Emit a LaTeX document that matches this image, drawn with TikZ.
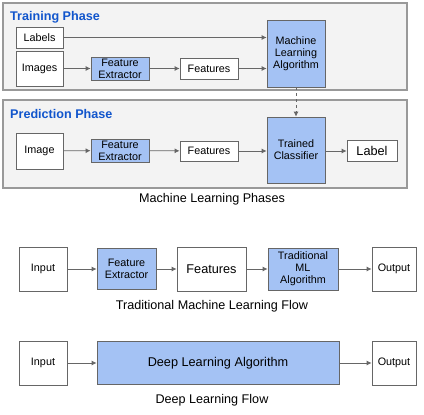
\documentclass[tikz,border=0pt]{standalone}
\usepackage{fontspec}
\setmainfont{Liberation Sans}
\usepackage{tikz}
\usetikzlibrary{arrows.meta}
\definecolor{boxblue}{HTML}{A4C2F4}
\definecolor{phasegray}{HTML}{F3F3F3}
\definecolor{titleblue}{HTML}{1155CC}
\definecolor{linegray}{HTML}{666666}
\begin{document}
\begin{tikzpicture}[x=1pt,y=-1pt,
  box/.style={draw=linegray,line width=0.8pt,fill=white,inner sep=0pt,align=center,font=\fontsize{10.8}{12.2}\selectfont},
  bluebox/.style={box,fill=boxblue},
  bigtxt/.style={font=\fontsize{12.7}{14}\selectfont},
  phase/.style={draw=gray!80,line width=1.2pt,fill=phasegray},
  title/.style={anchor=west,inner sep=0pt,text=titleblue,font=\fontsize{12.6}{14}\selectfont\bfseries},
  caption/.style={inner sep=0pt,font=\fontsize{12.6}{14}\selectfont},
  arr/.style={draw=linegray,line width=0.8pt,-{Latex[length=5pt,width=5pt]}}]
\useasboundingbox (0,0) rectangle (424,415);
% training phase
\draw[phase] (3,3) rectangle (407,90);
\node[title] (ttrain) at (10,17) {Training Phase};
\node[box,minimum width=47pt,minimum height=21pt] (lab) at (39.5,37.5) {Labels};
\node[box,minimum width=47pt,minimum height=35pt] (img) at (39.5,68.5) {Images};
\node[bluebox,minimum width=58pt,minimum height=23pt] (fea) at (120,68.5) {Feature\\Extractor};
\node[box,minimum width=58pt,minimum height=21pt] (feat) at (209,68.5) {Features};
\node[bluebox,minimum width=58pt,minimum height=67pt] (mla) at (296,53.5) {Machine\\Learning\\Algorithm};
% prediction phase
\draw[phase] (3,100) rectangle (407,188);
\node[title] (tpred) at (10,114) {Prediction Phase};
\node[box,minimum width=47pt,minimum height=36pt] (pimg) at (39.5,151) {Image};
\node[bluebox,minimum width=58pt,minimum height=23pt] (pfea) at (120,150.5) {Feature\\Extractor};
\node[box,minimum width=58pt,minimum height=20pt] (pfeat) at (209,151) {Features};
\node[bluebox,minimum width=58pt,minimum height=66pt] (tcl) at (296,150) {Trained\\Classifier};
\node[box,bigtxt,minimum width=50pt,minimum height=21pt] (plab) at (372,151) {Label};
\node[caption] (cphase) at (212,199) {Machine Learning Phases};
% traditional flow
\node[box,minimum width=48pt,minimum height=44pt] (tin) at (43,269) {Input};
\node[bluebox,minimum width=59pt,minimum height=41pt] (tfea) at (126.5,269) {Feature\\Extractor};
\node[box,bigtxt,minimum width=69pt,minimum height=44pt] (tfeat) at (211.5,269) {Features};
\node[bluebox,minimum width=70pt,minimum height=42pt] (tml) at (303,269) {Traditional\\ML\\Algorithm};
\node[box,minimum width=44pt,minimum height=44pt] (tout) at (394,269) {Output};
\node[caption] (ctrad) at (212,306) {Traditional Machine Learning Flow};
% deep flow
\node[box,minimum width=48pt,minimum height=44pt] (din) at (43,363) {Input};
\node[bluebox,bigtxt,minimum width=242pt,minimum height=43pt] (dla) at (218,363) {Deep Learning Algorithm};
\node[box,minimum width=44pt,minimum height=44pt] (dout) at (394,363) {Output};
\node[caption] (cdeep) at (212,400) {Deep Learning Flow};
% connectors
\draw[arr] (lab.east) -- (lab.east -| mla.west);
\draw[arr] (img) -- (fea);
\draw[arr] (fea) -- (feat);
\draw[arr] (feat) -- (feat -| mla.west);
\draw[arr,dashed] (mla) -- (tcl);
\draw[arr] (pimg) -- (pfea);
\draw[arr] (pfea) -- (pfeat);
\draw[arr] (pfeat) -- (pfeat -| tcl.west);
\draw[arr] (tcl.east |- plab) -- (plab);
\draw[arr] (tin) -- (tfea);
\draw[arr] (tfea) -- (tfeat);
\draw[arr] (tfeat) -- (tml);
\draw[arr] (tml) -- (tout);
\draw[arr] (din) -- (dla);
\draw[arr] (dla) -- (dout);
\end{tikzpicture}
\end{document}
